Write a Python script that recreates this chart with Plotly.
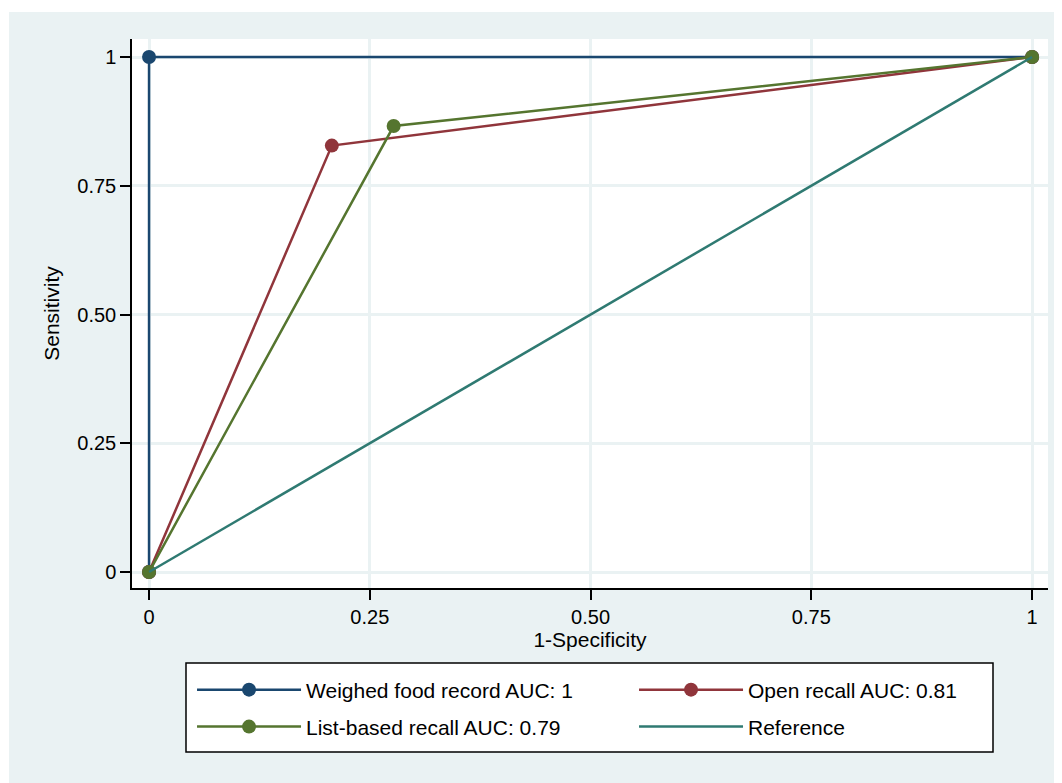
import plotly.graph_objects as go

FONT = "Liberation Sans, Arial, sans-serif"
BG = "#EAF2F3"

# ROC data
weighed_x = [0, 0, 1]
weighed_y = [0, 1, 1]
open_x = [0, 0.207, 1]
open_y = [0, 0.828, 1]
list_x = [0, 0.277, 1]
list_y = [0, 0.866, 1]
ref_x = [0, 1]
ref_y = [0, 1]

names = ["Weighed food record AUC: 1", "Open recall AUC: 0.81",
         "List-based recall AUC: 0.79", "Reference"]
colors = ["#1a476f", "#90353b", "#55752f", "#2f7a72"]
legend_ids = ["legend", "legend", "legend2", "legend2"]

ticks = [0, 0.25, 0.5, 0.75, 1]
ticktext = ["0", "0.25", "0.50", "0.75", "1"]

fig = go.Figure()
series = [(weighed_x, weighed_y), (open_x, open_y), (list_x, list_y)]
for (xs, ys), nm, c, lg in zip(series, names[:3], colors[:3], legend_ids[:3]):
    fig.add_trace(go.Scatter(x=xs, y=ys, name=nm, mode="lines+markers", legend=lg,
                             line=dict(color=c, width=2.5),
                             marker=dict(color=c, size=14)))
fig.add_trace(go.Scatter(x=ref_x, y=ref_y, name=names[3], mode="lines", legend=legend_ids[3],
                         line=dict(color=colors[3], width=2.5)))

axis_common = dict(
    tickvals=ticks, ticktext=ticktext, showgrid=True, gridcolor=BG, gridwidth=2.5,
    zeroline=False, showline=True, linecolor="black", linewidth=1.5,
    ticks="outside", ticklen=10, tickwidth=1.5, tickcolor="black",
    tickfont=dict(family=FONT, size=20, color="black"),
)
fig.update_xaxes(range=[-0.0193, 1.018], title=dict(text="1-Specificity", standoff=0,
                 font=dict(family=FONT, size=21, color="black")), **axis_common)
fig.update_yaxes(range=[-0.031, 1.035], title=dict(text="Sensitivity", standoff=12,
                 font=dict(family=FONT, size=21, color="black")), **axis_common)

leg_common = dict(orientation="h", xref="container", yref="container",
                  xanchor="left", yanchor="middle",
                  bgcolor="rgba(0,0,0,0)", borderwidth=0,
                  entrywidth=323, itemwidth=104,
                  font=dict(family=FONT, size=21, color="black"))

fig.update_layout(
    width=1054, height=775,
    margin=dict(l=124, r=14, t=31, b=195, autoexpand=False),
    paper_bgcolor=BG, plot_bgcolor="white",
    font=dict(family=FONT, size=20, color="black"),
    showlegend=True,
    legend=dict(x=0.1746, y=0.12, **leg_common),
    legend2=dict(x=0.1746, y=0.0723, **leg_common),
    shapes=[
        dict(type="rect", xref="paper", yref="paper", x0=-0.2, x1=1.1,
             y0=1.049, y1=1.2, fillcolor="white", line=dict(width=0), layer="below"),
        dict(type="rect", xref="paper", yref="paper", x0=-0.2, x1=-0.1343,
             y0=-0.5, y1=1.2, fillcolor="white", line=dict(width=0), layer="below"),
        dict(type="rect", xref="paper", yref="paper", x0=0.05895, x1=0.93996,
             y0=-0.2987, y1=-0.1366, fillcolor="white",
             line=dict(color="black", width=1.5), layer="above"),
    ],
)

fig.write_html("out.html")
